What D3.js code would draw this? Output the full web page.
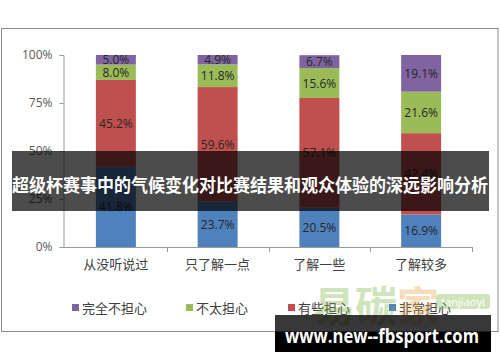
<!DOCTYPE html>
<html><head><meta charset="utf-8">
<script src="https://cdn.jsdelivr.net/npm/d3@7"></script>
<style>body{margin:0;background:#fff}svg{display:block}</style>
</head><body>
<svg id="c" width="500" height="362"></svg>
<script>
const categories = ["从没听说过","只了解一点","了解一些","了解较多"];
const seriesNames = ["非常担心","有些担心","不太担心","完全不担心"];
const seriesColors = ["#4F81BD","#C0504D","#9BBB59","#8064A2"];
const veryWorried = [41.8, 23.7, 20.5, 16.9];
const someWorried = [45.2, 59.6, 57.1, 42.4];
const notVery = [8.0, 11.8, 15.6, 21.6];
const notAtAll = [5.0, 4.9, 6.7, 19.1];
const yTicks = [0, 25, 50, 75, 100];
const legendOrder = ["完全不担心","不太担心","有些担心","非常担心"];
const bannerText = "超级杯赛事中的气候变化对比赛结果和观众体验的深远影响分析";
const siteText = "www.new--fbsport.com";
const watermarkChars = ["易","碳","家"];

const svg = d3.select("#c");
const numFont = "'Open Sans','Noto Sans CJK SC',sans-serif";
const cjkFont = "'Noto Sans CJK SC','Noto Sans',sans-serif";

// frame
svg.append("rect").attr("x",1.5).attr("y",28.5).attr("width",496.5).attr("height",303)
  .attr("fill","#fff").attr("stroke","#8a8a8a").attr("stroke-width",1);

const x = d3.scaleBand().domain(categories).range([65,472]).paddingInner(0.607).paddingOuter(0.3035);
const y = d3.scaleLinear().domain([0,100]).range([247,55]);

const table = categories.map((c,i)=>({cat:c,"非常担心":veryWorried[i],"有些担心":someWorried[i],"不太担心":notVery[i],"完全不担心":notAtAll[i]}));
const stack = d3.stack().keys(seriesNames)(table);
const color = d3.scaleOrdinal().domain(seriesNames).range(seriesColors);

// y axis
const yAxis = svg.append("g").attr("transform","translate(63.5,0)")
  .call(d3.axisLeft(y).tickValues(yTicks).tickFormat(d=>d+"%").tickSize(4).tickPadding(7));
yAxis.select(".domain").attr("stroke","#9a9a9a");
yAxis.selectAll(".tick line").attr("stroke","#9a9a9a");
yAxis.selectAll("text").attr("fill","#595959").attr("font-size",12).attr("font-family",numFont);

// x axis
const step = x.step();
const x0 = x(categories[0]) - x.paddingOuter()*step;
const xb = d3.scaleLinear().domain([0,categories.length]).range([x0, x0 + step*categories.length]);
const xAxisG = svg.append("g");
xAxisG.append("line").attr("x1",63.5).attr("x2",xb(categories.length)).attr("y1",247.5).attr("y2",247.5).attr("stroke","#9a9a9a");
xAxisG.selectAll("line.t").data(d3.range(1,categories.length+1)).join("line").attr("class","t")
  .attr("x1",d=>Math.round(xb(d))+0.5).attr("x2",d=>Math.round(xb(d))+0.5).attr("y1",247).attr("y2",252).attr("stroke","#9a9a9a");
xAxisG.selectAll("text").data(categories).join("text")
  .attr("x",d=>x(d)+x.bandwidth()/2).attr("y",263).attr("dominant-baseline","central")
  .attr("text-anchor","middle").attr("font-size",13).attr("font-family",cjkFont).attr("fill","#404040").text(d=>d);

// bars
const layers = svg.append("g").selectAll("g").data(stack).join("g").attr("fill",d=>color(d.key));
layers.selectAll("rect").data(d=>d).join("rect")
  .attr("x",d=>x(d.data.cat)).attr("width",x.bandwidth())
  .attr("y",d=>y(d[1])).attr("height",d=>y(d[0])-y(d[1]));
layers.selectAll("text").data(d=>d).join("text")
  .attr("x",d=>x(d.data.cat)+x.bandwidth()/2).attr("y",d=>(y(d[0])+y(d[1]))/2)
  .attr("dominant-baseline","central").attr("text-anchor","middle")
  .attr("font-size",12).attr("font-family",numFont).attr("fill","#262626")
  .text(d=>(d[1]-d[0]).toFixed(1)+"%");

// legend
const legX = [72,186,288,389];
const leg = svg.append("g").selectAll("g").data(legendOrder).join("g")
  .attr("transform",(d,i)=>`translate(${legX[i]},307)`);
leg.append("rect").attr("x",0).attr("y",-3).attr("width",7).attr("height",7).attr("fill",d=>color(d));
leg.append("text").attr("x",10).attr("y",0).attr("dominant-baseline","central")
  .attr("font-size",13).attr("font-family",cjkFont).attr("fill","#404040").text(d=>d);

// watermark
const wm = svg.append("g").attr("opacity",0.35);
wm.selectAll("text.w").data(watermarkChars).join("text").attr("class","w")
  .attr("x",(d,i)=>313+i*42).attr("y",322).attr("font-size",42).attr("font-weight","bold")
  .attr("font-family",cjkFont).attr("fill",(d,i)=>i===2?"#e8a040":"#7cb342").text(d=>d);
wm.append("rect").attr("x",436).attr("y",294).attr("width",54).attr("height",15).attr("rx",3).attr("fill","#7cb342");
wm.append("text").attr("x",463).attr("y",301.5).attr("dominant-baseline","central").attr("text-anchor","middle")
  .attr("font-size",11).attr("font-family",numFont).attr("fill","#fff").text("tanjiaoyi");

// banner
svg.append("rect").attr("x",12).attr("y",151).attr("width",477).attr("height",60).attr("fill","rgba(0,0,0,0.7)");
svg.append("text").attr("x",12).attr("y",183.5).attr("dominant-baseline","central")
  .attr("font-size",18).attr("font-weight","bold").attr("font-family",cjkFont).attr("fill","#fff")
  .attr("textLength",476).attr("lengthAdjust","spacingAndGlyphs").text(bannerText);

// site bar
svg.append("rect").attr("x",275).attr("y",315).attr("width",216).attr("height",17).attr("fill","rgba(0,0,0,0.78)");
svg.append("rect").attr("x",275).attr("y",332).attr("width",216).attr("height",20).attr("fill","#000");
svg.append("text").attr("x",285).attr("y",343).attr("font-size",20).attr("font-weight","bold")
  .attr("font-family","'Open Sans','DejaVu Sans',sans-serif").attr("fill","#fff")
  .attr("textLength",194).attr("lengthAdjust","spacingAndGlyphs").text(siteText);
</script>
</body></html>
